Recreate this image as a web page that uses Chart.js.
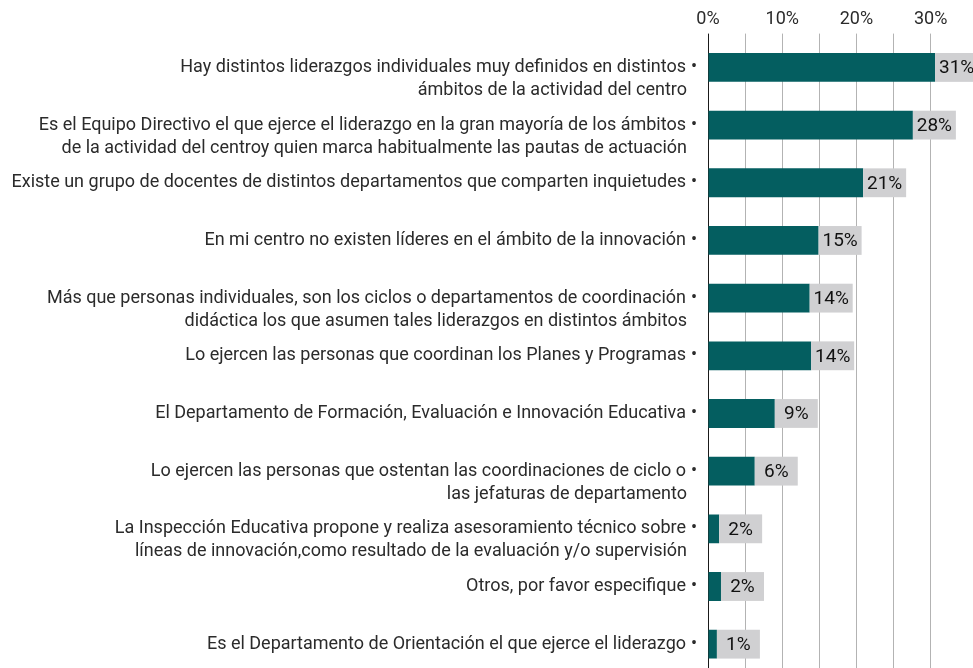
<!DOCTYPE html>
<html>
<head>
<meta charset="utf-8">
<script src="https://cdn.jsdelivr.net/npm/chart.js@4.4.1/dist/chart.umd.min.js"></script>
<style>
  html, body { margin: 0; padding: 0; background: #fff; overflow: hidden; }
  #wrap { position: relative; width: 973px; height: 673px; }
</style>
</head>
<body>
<div id="wrap"><canvas id="chart"></canvas></div>
<script>
// Categories (each entry = label lines)
const categories = [
  ["Hay distintos liderazgos individuales muy definidos en distintos", "ámbitos de la actividad del centro"],
  ["Es el Equipo Directivo el que ejerce el liderazgo en la gran mayoría de los ámbitos", "de la actividad del centroy quien marca habitualmente las pautas de actuación"],
  ["Existe un grupo de docentes de distintos departamentos que comparten inquietudes"],
  ["En mi centro no existen líderes en el ámbito de la innovación"],
  ["Más que personas individuales, son los ciclos o departamentos de coordinación", "didáctica los que asumen tales liderazgos en distintos ámbitos"],
  ["Lo ejercen las personas que coordinan los Planes y Programas"],
  ["El Departamento de Formación, Evaluación e Innovación Educativa"],
  ["Lo ejercen las personas que ostentan las coordinaciones de ciclo o", "las jefaturas de departamento"],
  ["La Inspección Educativa propone y realiza asesoramiento técnico sobre", "líneas de innovación,como resultado de la evaluación y/o supervisión"],
  ["Otros, por favor especifique"],
  ["Es el Departamento de Orientación el que ejerce el liderazgo"]
];

// Percentages
const values = [30.6, 27.6, 20.9, 14.9, 13.7, 13.9, 9.0, 6.3, 1.5, 1.75, 1.2];

// x axis ticks that carry a label
const tickLabels = [0, 10, 20, 30];

const BAR_COLOR = "#045e60";
const BOX_COLOR = "#d0d0d2";
const TEXT_COLOR = "#2b2b2b";
const FONT = "Roboto, 'Liberation Sans', sans-serif";

// gray value box after each bar + category labels with bullet
const labelPlugin = {
  id: "labelPlugin",
  afterDatasetsDraw(chart) {
    const ctx = chart.ctx;
    const meta = chart.getDatasetMeta(0);
    ctx.save();
    meta.data.forEach((bar, i) => {
      const h = bar.height;
      ctx.fillStyle = BOX_COLOR;
      ctx.fillRect(bar.x, bar.y - h / 2, 43, h);
      ctx.fillStyle = "#111";
      ctx.font = "19px " + FONT;
      ctx.textAlign = "center";
      ctx.textBaseline = "middle";
      ctx.fillText(Math.round(values[i]) + "%", bar.x + 21.5, bar.y + 1);
    });

    const yScale = chart.scales.y;
    ctx.font = "18px " + FONT;
    ctx.fillStyle = TEXT_COLOR;
    ctx.textBaseline = "middle";
    categories.forEach((lines, i) => {
      const y = yScale.getPixelForValue(i);
      ctx.textAlign = "right";
      ctx.fillText(lines[0], 686, y + 0);
      if (lines[1]) ctx.fillText(lines[1], 687, y + 23);
      ctx.textAlign = "center";
      ctx.fillText("•", 694, y + 0);
    });
    ctx.restore();
  }
};

new Chart(document.getElementById("chart"), {
  type: "bar",
  data: {
    labels: categories.map((c) => c.join(" ")),
    datasets: [{
      data: values,
      backgroundColor: BAR_COLOR,
      borderWidth: 0,
      barPercentage: 0.5,
      categoryPercentage: 1
    }]
  },
  options: {
    indexAxis: "y",
    responsive: true,
    maintainAspectRatio: false,
    animation: false,
    layout: { padding: { top: 6, left: 0, right: 0, bottom: 0 } },
    plugins: {
      legend: { display: false },
      tooltip: { enabled: false }
    },
    scales: {
      x: {
        position: "top",
        min: 0,
        max: 35.7,
        grid: {
          color: (c) => (c.tick && c.tick.value === 0 ? "#1a1a1a" : "#b3b3b3"),
          lineWidth: 1,
          tickLength: 5,
          drawTicks: true
        },
        border: { display: false },
        ticks: {
          stepSize: 5,
          includeBounds: false,
          maxRotation: 0,
          padding: 3,
          color: TEXT_COLOR,
          font: { family: FONT, size: 18 },
          callback: (v) => {
            if (v > 30) return null;
            return tickLabels.includes(v) ? v + "%" : "";
          }
        }
      },
      y: {
        grid: { display: false },
        border: { display: false },
        ticks: { display: false },
        afterFit: (scale) => { scale.width = 708; }
      }
    }
  },
  plugins: [labelPlugin]
});
</script>
</body>
</html>
